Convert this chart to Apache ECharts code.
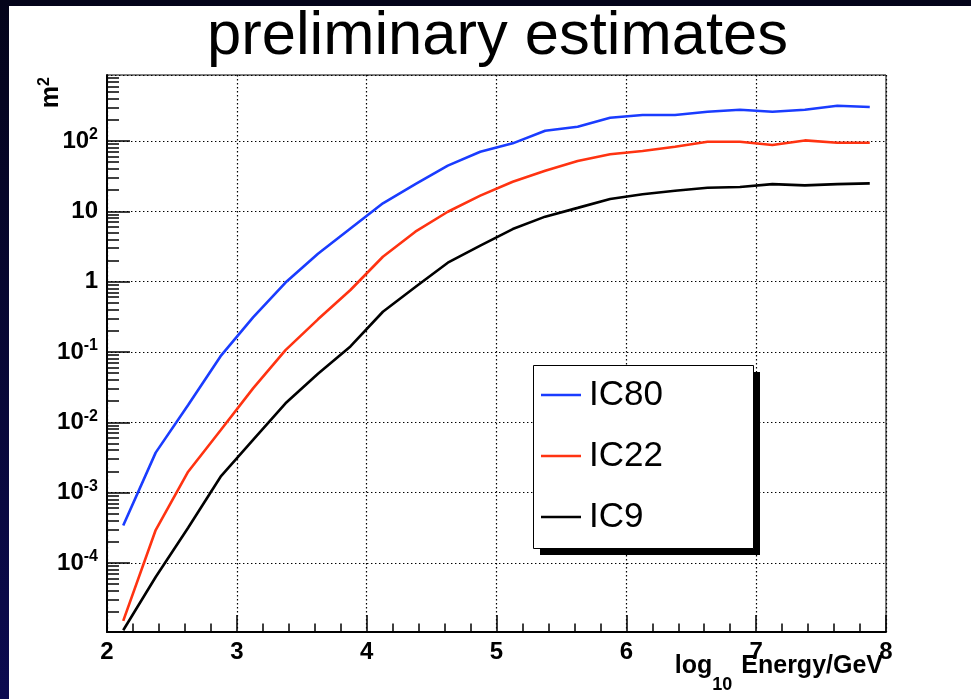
<!DOCTYPE html>
<html>
<head>
<meta charset="utf-8">
<script src="https://cdn.jsdelivr.net/npm/echarts@6.0.0/dist/echarts.min.js"></script>
<style>
html, body { margin: 0; padding: 0; width: 971px; height: 699px; overflow: hidden;
  background: linear-gradient(#04041a, #0c0b50); }
#chart { position: absolute; left: 9px; top: 6px; width: 962px; height: 693px; }
</style>
</head>
<body>
<div id="chart"></div>
<script>
// log10 energy bin centres
var energy = [2.125, 2.375, 2.625, 2.875, 3.125, 3.375, 3.625, 3.875,
              4.125, 4.375, 4.625, 4.875, 5.125, 5.375, 5.625, 5.875,
              6.125, 6.375, 6.625, 6.875, 7.125, 7.375, 7.625, 7.875];
// effective area, m^2
var ic80 = [3.4e-4, 3.7e-3, 0.0176, 0.087, 0.31, 0.97, 2.5, 5.7,
            13.0, 24.4, 44.6, 70.5, 92.7, 140, 160, 214,
            234, 234, 261, 279, 261, 279, 318, 305];
var ic22 = [1.5e-5, 2.93e-4, 1.98e-3, 7.7e-3, 0.0303, 0.106, 0.291, 0.76,
            2.26, 5.13, 9.86, 16.7, 26.4, 37.8, 52, 64.7,
            72, 83, 97.7, 97.7, 87.7, 102, 94.6, 94.6];
var ic9 = [1.1e-5, 6.3e-5, 3.16e-4, 1.68e-3, 5.6e-3, 0.0186, 0.049, 0.12,
           0.373, 0.84, 1.86, 3.25, 5.6, 8.4, 11.2, 15.0,
           17.5, 19.6, 21.7, 22.2, 24.4, 23.4, 24.4, 25];

var seriesNames = ['IC80', 'IC22', 'IC9'];
var seriesColors = ['#1a3cff', '#ff3311', '#000000'];

var xTicks = [2, 3, 4, 5, 6, 7, 8];
var yPowers = [-4, -3, -2, -1, 0, 1, 2];
var yMin = 1.04e-5, yMax = 869;

var FONT = '"Liberation Sans", Arial, Helvetica, sans-serif';

// minor ticks 2..9 x 10^n on the log axis
var yMinor = [];
for (var p = -5; p <= 2; p++) {
    for (var k = 2; k <= 9; k++) {
        var v = k * Math.pow(10, p);
        if (v > yMin && v < yMax) yMinor.push(v);
    }
}

function yLabel(val) {
    var lg = Math.log(val) / Math.LN10;
    var p = Math.round(lg);
    if (Math.abs(lg - p) > 1e-6 || yPowers.indexOf(p) < 0) return '';
    if (p === 0) return '{b|1}';
    if (p === 1) return '{b|10}';
    return '{b|10}{s|' + p + '}';
}

function pairs(ys) {
    return energy.map(function (e, i) { return [e, ys[i]]; });
}

var chart = echarts.init(document.getElementById('chart'));
var lineSeries = [ic80, ic22, ic9].map(function (ys, i) {
    return {
        name: seriesNames[i],
        type: 'line',
        symbol: 'none',
        color: seriesColors[i],
        lineStyle: { width: 2.6, color: seriesColors[i] },
        data: pairs(ys),
        z: 3
    };
});

var gridLine = { color: '#000', width: 1.2, type: [1.4, 2.6] };

chart.setOption({
    backgroundColor: '#fff',
    animation: false,
    title: {
        text: 'preliminary estimates',
        left: 193, top: -5,
        textStyle: { fontSize: 61.5, fontWeight: 'normal', color: '#000', fontFamily: FONT }
    },
    grid: {
        left: 98, top: 69, right: 85, bottom: 67,
        show: true, borderColor: '#000', borderWidth: 1
    },
    legend: {
        orient: 'vertical',
        left: 524, top: 359, z: 8,
        padding: [10, 90, 11, 8],
        itemGap: 21,
        icon: 'rect',
        itemWidth: 40, itemHeight: 2.4,
        textStyle: { fontSize: 35, lineHeight: 40, color: '#000', fontFamily: FONT, padding: [0, 0, 0, 3] },
        data: seriesNames
    },
    xAxis: {
        type: 'value', min: 2, max: 8, interval: 1,
        axisLine: { onZero: false, lineStyle: { color: '#000', width: 2 } },
        axisTick: { inside: true, length: 17, lineStyle: { color: '#000', width: 1.5 } },
        minorTick: { show: true, splitNumber: 5, length: 8.5, lineStyle: { color: '#000', width: 1.5 } },
        axisLabel: {
            margin: 8, color: '#000', fontSize: 24, fontWeight: 'bold', fontFamily: FONT,
            formatter: function (v) { return xTicks.indexOf(v) >= 0 ? String(v) : ''; }
        },
        splitLine: { show: true, lineStyle: gridLine }
    },
    yAxis: [{
        type: 'log', min: yMin, max: yMax, position: 'left',
        axisLine: { show: true, onZero: false, lineStyle: { color: '#000', width: 2 } },
        axisTick: { inside: true, length: 23, lineStyle: { color: '#000', width: 1.5 } },
        axisLabel: {
            margin: 9, color: '#000', fontFamily: FONT,
            showMinLabel: false, showMaxLabel: false,
            formatter: yLabel,
            rich: {
                b: { fontSize: 24, fontWeight: 'bold', lineHeight: 28, fontFamily: FONT, color: '#000' },
                s: { fontSize: 16, fontWeight: 'bold', lineHeight: 16, verticalAlign: 'top', fontFamily: FONT, color: '#000' }
            }
        },
        splitLine: { show: true, lineStyle: gridLine }
    }, {
        type: 'log', min: yMin, max: yMax, position: 'left',
        axisLine: { show: false },
        axisLabel: { show: false },
        splitLine: { show: false },
        axisTick: { show: true, inside: true, length: 12, customValues: yMinor,
                    lineStyle: { color: '#000', width: 1.5 } }
    }],
    graphic: [{
        // legend drop shadow
        type: 'rect', z: 6,
        shape: { x: 531, y: 366, width: 220, height: 183 },
        style: { fill: '#000' }
    }, {
        // legend box
        type: 'rect', z: 7,
        shape: { x: 524.5, y: 359.5, width: 220, height: 183 },
        style: { fill: '#fff', stroke: '#000', lineWidth: 1 }
    }, {
        type: 'text',
        x: 42, y: 71,
        rotation: Math.PI / 2,
        style: {
            text: '{m|m}{s|2}',
            textAlign: 'right', textVerticalAlign: 'middle',
            rich: {
                m: { fontSize: 25, fontWeight: 'bold', lineHeight: 28, fontFamily: FONT, fill: '#000' },
                s: { fontSize: 16, fontWeight: 'bold', lineHeight: 16, verticalAlign: 'top', fontFamily: FONT, fill: '#000' }
            }
        }
    }, {
        type: 'text',
        x: 874, y: 648,
        style: {
            text: '{a|log}{s|10}{e|Energy/GeV}',
            textAlign: 'right', textVerticalAlign: 'top',
            rich: {
                a: { fontSize: 25, fontWeight: 'bold', lineHeight: 30, verticalAlign: 'top', fontFamily: FONT, fill: '#000' },
                e: { fontSize: 25, fontWeight: 'bold', lineHeight: 30, verticalAlign: 'top', padding: [0, 0, 0, 9], fontFamily: FONT, fill: '#000' },
                s: { fontSize: 18, fontWeight: 'bold', lineHeight: 18, padding: [22, 0, 0, 0], verticalAlign: 'top', fontFamily: FONT, fill: '#000' }
            }
        }
    }],
    series: lineSeries
});
</script>
</body>
</html>
